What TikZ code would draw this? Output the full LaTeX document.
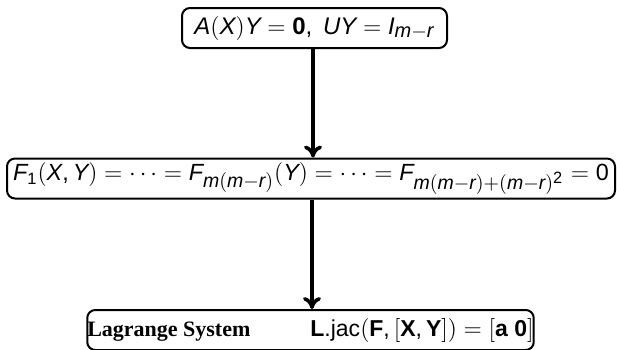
\documentclass[tikz,border=0pt]{standalone}
\usepackage{amsmath}
\usepackage{fontspec}
\setmainfont{Liberation Sans}
\usepackage[italic,noequal,noplusnominus]{mathastext}
\newfontfamily\serifbf{Liberation Serif}
\newcommand{\subdigit}[1]{\mbox{\fontsize{8.2}{9}\selectfont\upshape #1}}
\usetikzlibrary{arrows.meta}
\begin{document}
\begin{tikzpicture}[x=0.5pt,y=-0.5pt,
  box/.style={draw, line width=1pt, rounded corners=4pt, inner sep=0pt,
    minimum height=20pt, font=\fontsize{12}{14}\selectfont},
  arr/.style={-{To[length=6pt,width=9pt]}, line width=1.8pt}]
\useasboundingbox (0,0) rectangle (617,349);
\node[box, minimum width=132.5pt] (top) at (314.5,28) {$A(X)Y=\mathbf{0},\ UY=I_{m-r}$};
\node[box, minimum width=304pt, font=\fontsize{11.7}{14}\selectfont] (mid) at (311,178.5) {$F_{\subdigit{1}}(X,Y)=\cdots=F_{m(m-r)}(Y)=\cdots=F_{m(m-r)+(m-r)^{\subdigit{2}}}=\text{0}$};
\node[box, minimum width=221.5pt] (bot) at (310.5,330) {{\fontsize{11}{13}\selectfont\serifbf\bfseries Lagrange System}\hspace{30pt}{\fontsize{11.5}{13}\selectfont$\mathbf{L}.\mathrm{jac}(\mathbf{F},[\mathbf{X},\mathbf{Y}])=[\mathbf{a}\ \mathbf{0}]$}};
\draw[arr] (top.south -| 313,0) -- (mid.north -| 313,0);
\draw[arr] (mid.south -| 312,0) -- (bot.north -| 312,0);
\end{tikzpicture}
\end{document}
